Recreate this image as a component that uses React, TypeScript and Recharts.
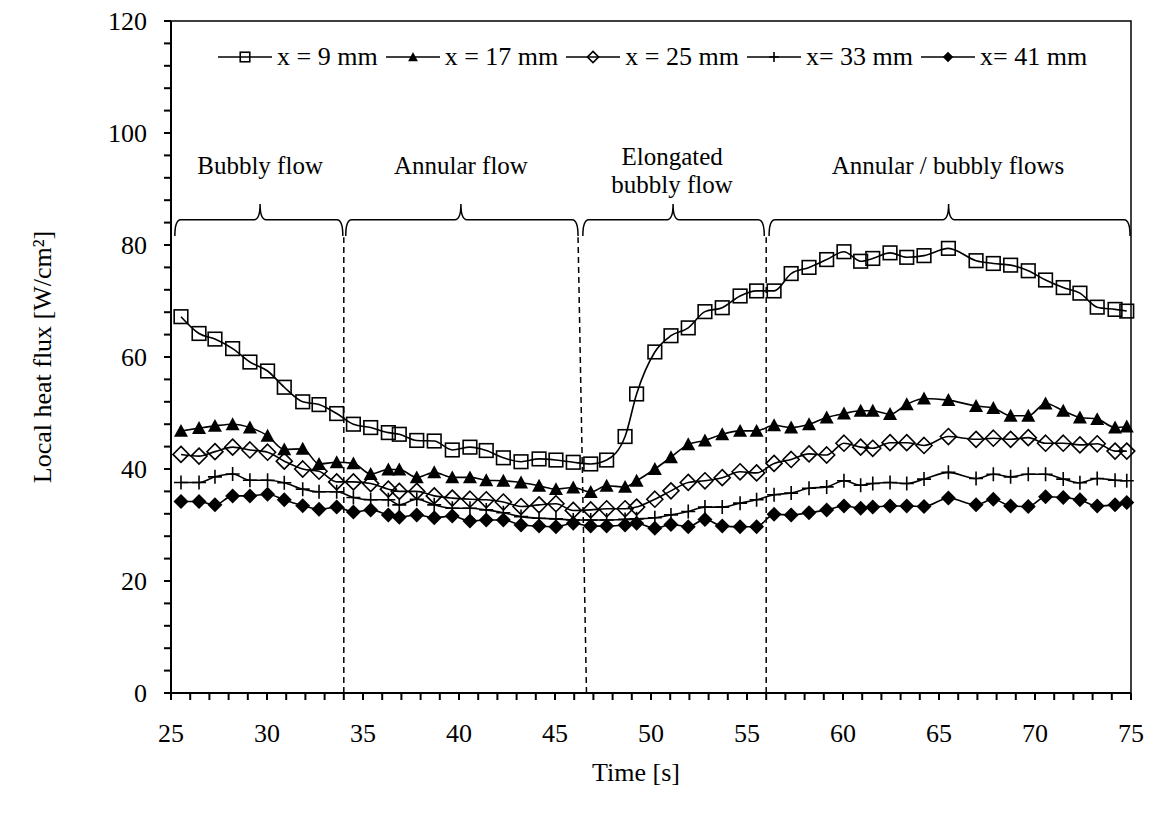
import React from "react";
import {
  LineChart,
  Line,
  XAxis,
  YAxis,
  ReferenceLine,
  ReferenceArea,
  ReferenceDot,
  Legend,
} from "recharts";

// sample times [s], shared by every probe
const time = [
  25.52, 26.46, 27.29, 28.21, 29.11, 30.03, 30.9, 31.86, 32.71, 33.63,
  34.5, 35.4, 36.32, 36.89, 37.8, 38.71, 39.65, 40.57, 41.42, 42.31,
  43.23, 44.17, 45.05, 45.95, 46.86, 47.69, 48.65, 49.25, 50.2, 51.04,
  51.94, 52.81, 53.71, 54.64, 55.5, 56.41, 57.3, 58.23, 59.15, 60.05,
  60.92, 61.55, 62.45, 63.32, 64.22, 65.49, 66.93, 67.83, 68.73, 69.65,
  70.55, 71.47, 72.34, 73.24, 74.17, 74.78,
];

// local heat flux [W/cm2] per probe position
const flux9 = [
  67.2, 64.2, 63.2, 61.5, 59.1, 57.5, 54.6, 52.0, 51.5, 49.9,
  48.0, 47.4, 46.5, 46.2, 45.1, 45.0, 43.4, 43.9, 43.3, 42.0,
  41.3, 41.8, 41.6, 41.2, 40.9, 41.6, 45.8, 53.4, 60.9, 63.8,
  65.2, 68.1, 68.8, 70.9, 71.8, 71.8, 74.9, 76.0, 77.4, 78.8,
  77.1, 77.6, 78.6, 77.8, 78.1, 79.4, 77.2, 76.7, 76.4, 75.4,
  73.75, 72.4, 71.4, 68.9, 68.5, 68.2,
];
const flux17 = [
  46.8, 47.3, 47.7, 48.0, 47.4, 45.95, 43.5, 43.6, 40.9, 41.2,
  41.0, 39.1, 39.9, 39.9, 38.5, 39.4, 38.5, 38.5, 38.0, 37.9,
  37.6, 37.0, 36.4, 36.7, 35.9, 37.0, 36.8, 37.9, 40.0, 42.1,
  44.4, 45.1, 46.2, 46.8, 46.8, 47.8, 47.4, 48.0, 49.2, 49.9,
  50.4, 50.4, 49.8, 51.55, 52.6, 52.3, 51.25, 50.9, 49.5, 49.5,
  51.7, 50.4, 49.2, 48.9, 47.4, 47.6,
];
const flux25 = [
  42.6, 42.3, 43.1, 43.9, 43.4, 43.0, 41.4, 40.0, 39.6, 37.7,
  37.7, 37.4, 36.4, 36.0, 36.0, 35.2, 34.8, 34.6, 34.5, 34.1,
  33.3, 33.6, 33.8, 32.6, 32.7, 32.9, 32.9, 33.2, 34.6, 36.1,
  37.6, 37.9, 38.45, 39.5, 39.3, 41.0, 41.7, 42.7, 42.5, 44.6,
  43.9, 43.7, 44.7, 44.7, 44.2, 45.8, 45.3, 45.5, 45.3, 45.6,
  44.6, 44.6, 44.3, 44.5, 43.2, 43.2,
];
const flux33 = [
  37.6, 37.6, 38.6, 39.1, 38.0, 38.0, 37.55, 36.4, 35.95, 35.95,
  34.9, 34.5, 34.5, 33.6, 34.6, 33.6, 33.0, 33.0, 32.7, 32.2,
  31.5, 31.2, 31.1, 30.9, 30.9, 30.9, 31.0, 31.1, 31.3, 31.8,
  32.4, 33.2, 33.2, 33.9, 34.5, 35.4, 35.7, 36.55, 36.8, 37.9,
  37.1, 37.4, 37.6, 37.4, 38.2, 39.4, 38.3, 39.05, 38.6, 39.05,
  39.05, 38.2, 37.55, 38.3, 38.0, 37.9,
];
const flux41 = [
  34.2, 34.2, 33.6, 35.2, 35.2, 35.5, 34.5, 33.45, 32.8, 33.2,
  32.3, 32.7, 31.8, 31.4, 31.8, 31.3, 31.6, 30.7, 30.9, 30.9,
  30.0, 29.8, 29.7, 30.3, 29.8, 29.8, 30.0, 30.3, 29.4, 30.1,
  29.7, 31.0, 29.8, 29.7, 29.7, 31.9, 31.8, 32.2, 32.7, 33.4,
  33.0, 33.2, 33.4, 33.4, 33.3, 34.8, 33.6, 34.6, 33.4, 33.3,
  35.05, 34.9, 34.5, 33.4, 33.6, 34.0,
];

const xLabels = [25, 30, 35, 40, 45, 50, 55, 60, 65, 70, 75];
const yLabels = [0, 20, 40, 60, 80, 100, 120];
const X_MINOR_STEP = 1;
const Y_MINOR_STEP = 4;

// flow regime boundaries (dashed), bottom/top time of each line
const regimeLines = [
  { bottom: 34.0, top: 34.0 },
  { bottom: 46.64, top: 46.2 },
  { bottom: 56.0, top: 56.0 },
];
const braces = [
  { from: 25.2, to: 33.95, tip: 29.64 },
  { from: 34.1, to: 46.2, tip: 40.1 },
  { from: 46.45, to: 55.9, tip: 51.15 },
  { from: 56.15, to: 74.95, tip: 65.5 },
];
const regimeLabels = [
  { x: 29.64, y: 94.3, text: "Bubbly flow" },
  { x: 40.1, y: 94.3, text: "Annular flow" },
  { x: 51.1, y: 95.9, text: "Elongated" },
  { x: 51.1, y: 90.9, text: "bubbly flow" },
  { x: 65.47, y: 94.3, text: "Annular / bubbly flows" },
];

type Kind = "square" | "triangle" | "diamond" | "plus" | "fdiamond";

const series: { key: string; name: string; values: number[]; kind: Kind }[] = [
  { key: "x9", name: "x = 9 mm", values: flux9, kind: "square" },
  { key: "x17", name: "x = 17 mm", values: flux17, kind: "triangle" },
  { key: "x25", name: "x = 25 mm", values: flux25, kind: "diamond" },
  { key: "x33", name: "x= 33 mm", values: flux33, kind: "plus" },
  { key: "x41", name: "x= 41 mm", values: flux41, kind: "fdiamond" },
];

const data = time.map((t, i) => {
  const row: Record<string, number> = { t };
  series.forEach((s) => (row[s.key] = s.values[i]));
  return row;
});

const range = (a: number, b: number, step: number) => {
  const out: number[] = [];
  for (let v = a; v <= b + 1e-9; v += step) out.push(v);
  return out;
};
const xTicks = range(xLabels[0], xLabels[xLabels.length - 1], X_MINOR_STEP);
const yTicks = range(yLabels[0], yLabels[yLabels.length - 1], Y_MINOR_STEP);

const FONT = "'Liberation Serif', 'Times New Roman', serif";

function Marker({ cx, cy, kind, s = 1 }: { cx: number; cy: number; kind: Kind; s?: number }) {
  if (cx == null || cy == null) return null;
  const sw = 1.6;
  switch (kind) {
    case "square": {
      const h = 6.8 * s;
      return <rect x={cx - h} y={cy - h} width={2 * h} height={2 * h} fill="none" stroke="#000" strokeWidth={sw} />;
    }
    case "triangle": {
      const h = 7 * s;
      return <polygon points={`${cx},${cy - h} ${cx + h},${cy + h * 0.85} ${cx - h},${cy + h * 0.85}`} fill="#000" />;
    }
    case "diamond": {
      const h = 8 * s;
      return (
        <polygon
          points={`${cx},${cy - h} ${cx + h},${cy} ${cx},${cy + h} ${cx - h},${cy}`}
          fill="none"
          stroke="#000"
          strokeWidth={sw}
        />
      );
    }
    case "plus": {
      const h = 7 * s;
      return <path d={`M${cx - h},${cy}H${cx + h}M${cx},${cy - h}V${cy + h}`} stroke="#000" strokeWidth={sw} />;
    }
    default: {
      const h = 7.5 * s;
      return <polygon points={`${cx},${cy - h} ${cx + h},${cy} ${cx},${cy + h} ${cx - h},${cy}`} fill="#000" />;
    }
  }
}

// curly brace drawn inside the rect that ReferenceArea computes
function braceShape(tipFrac: number) {
  return (p: any) => {
    const { x, y, width, height } = p;
    const yh = y + height * 0.49;
    const yb = y + height;
    const mx = x + width * tipFrac;
    const r = 6;
    const d =
      `M${x},${yb} Q${x},${yh} ${x + r},${yh} L${mx - r},${yh} Q${mx},${yh} ${mx},${y} ` +
      `Q${mx},${yh} ${mx + r},${yh} L${x + width - r},${yh} Q${x + width},${yh} ${x + width},${yb}`;
    return <path d={d} fill="none" stroke="#000" strokeWidth={1.5} />;
  };
}

function LegendRow() {
  return (
    <div style={{ display: "flex", alignItems: "center", fontFamily: FONT, fontSize: 26, color: "#000", whiteSpace: "nowrap" }}>
      {series.map((s) => (
        <span key={s.key} style={{ display: "inline-flex", alignItems: "center", marginRight: 8 }}>
          <svg width={54} height={18}>
            <line x1={0} y1={9} x2={54} y2={9} stroke="#000" strokeWidth={1.6} />
            <Marker cx={27} cy={9} kind={s.kind} s={0.7} />
          </svg>
          <span style={{ marginLeft: 5 }}>{s.name}</span>
        </span>
      ))}
    </div>
  );
}

export default function App() {
  return (
    <div style={{ position: "absolute", left: 0, top: 0, width: 1153, height: 816, background: "#fff" }}>
      <LineChart width={1153} height={816} data={data} margin={{ top: 21, right: 22, left: 111, bottom: 23 }}>
        <XAxis
          dataKey="t"
          type="number"
          domain={[25, 75]}
          ticks={xTicks}
          interval={0}
          tickFormatter={(v: number) => (xLabels.includes(v) ? String(v) : "")}
          height={100}
          tickSize={7}
          tickMargin={24}
          axisLine={{ stroke: "#000", strokeWidth: 2 }}
          tickLine={{ stroke: "#000", strokeWidth: 2 }}
          tick={{ fill: "#000", fontSize: 26, fontFamily: FONT }}
          label={{ value: "Time [s]", position: "insideBottom", offset: 12, dx: -15, fill: "#000", fontSize: 26, fontFamily: FONT }}
        />
        <YAxis
          type="number"
          domain={[0, 120]}
          ticks={yTicks}
          interval={0}
          tickFormatter={(v: number) => (yLabels.includes(v) ? String(v) : "")}
          width={60}
          tickSize={7}
          tickMargin={17}
          axisLine={{ stroke: "#000", strokeWidth: 2 }}
          tickLine={{ stroke: "#000", strokeWidth: 2 }}
          tick={{ fill: "#000", fontSize: 26, fontFamily: FONT }}
          label={{
            value: "Local heat flux [W/cm²]",
            angle: -90,
            position: "insideLeft",
            offset: -69,
            fill: "#000",
            fontSize: 26,
            fontFamily: FONT,
            style: { textAnchor: "middle" },
          }}
        />
        <ReferenceArea x1={25} x2={75} y1={0} y2={120} fill="none" stroke="#000" strokeWidth={1.5} />
        {regimeLines.map((l, i) => (
          <ReferenceLine
            key={`rl-${i}`}
            segment={[
              { x: l.bottom, y: 0 },
              { x: l.top, y: 81.4 },
            ]}
            stroke="#000"
            strokeWidth={1.5}
            strokeDasharray="6 4"
          />
        ))}
        {braces.map((b, i) => (
          <ReferenceArea
            key={`br-${i}`}
            x1={b.from}
            x2={b.to}
            y1={81.6}
            y2={87.3}
            shape={braceShape((b.tip - b.from) / (b.to - b.from))}
          />
        ))}
        {regimeLabels.map((l, i) => (
          <ReferenceDot
            key={`lb-${i}`}
            x={l.x}
            y={l.y}
            r={0}
            fill="none"
            stroke="none"
            label={{ value: l.text, position: "center", fill: "#000", fontSize: 25, fontFamily: FONT }}
          />
        ))}
        {series.map((s) => (
          <Line
            key={s.key}
            dataKey={s.key}
            name={s.name}
            type="monotone"
            stroke="#000"
            strokeWidth={1.6}
            isAnimationActive={false}
            dot={(p: any) => <Marker key={`${s.key}-${p.index}`} cx={p.cx} cy={p.cy} kind={s.kind} />}
            activeDot={false}
          />
        ))}
        <Legend
          layout="horizontal"
          verticalAlign="middle"
          align="center"
          wrapperStyle={{ top: 42, left: 218, width: "auto" }}
          content={() => <LegendRow />}
        />
      </LineChart>
    </div>
  );
}
